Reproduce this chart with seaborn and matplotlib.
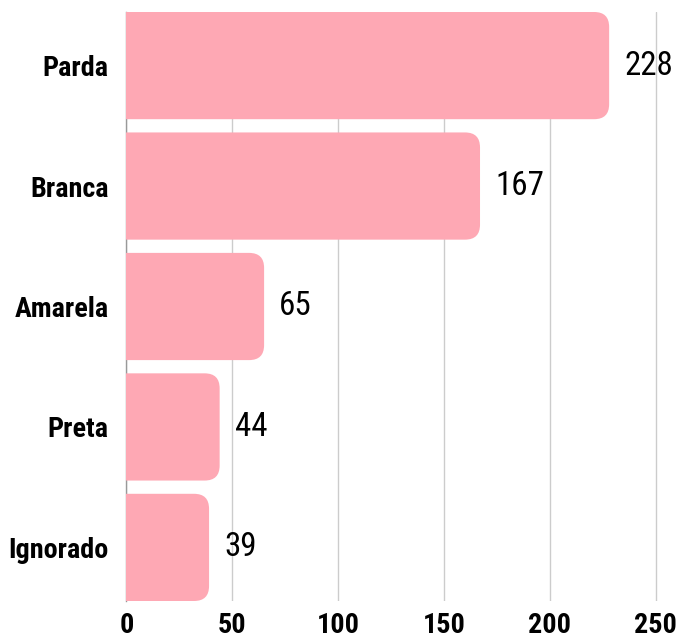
import matplotlib
matplotlib.use("Agg")
import matplotlib.pyplot as plt
import pandas as pd
import seaborn as sns
from matplotlib import font_manager
from matplotlib.patches import FancyBboxPatch

categories = ["Parda", "Branca", "Amarela", "Preta", "Ignorado"]
counts = [228, 167, 65, 44, 39]
x_ticks = [0, 50, 100, 150, 200, 250]

BAR_COLOR = "#FEA8B4"
BAR_WIDTH = 0.89


def pick_font(names):
    for name in names:
        try:
            font_manager.findfont(font_manager.FontProperties(family=name),
                                  fallback_to_default=False)
            return name
        except ValueError:
            continue
    return "DejaVu Sans"


FONT = pick_font(["Roboto Condensed", "Liberation Sans Narrow",
                  "Fira Sans Condensed", "Roboto", "Lato"])

sns.set_theme(style="white")
plt.rcParams["font.family"] = [FONT, "DejaVu Sans"]

df = pd.DataFrame({"cor": categories, "n": counts})

fig = plt.figure(figsize=(6.79, 6.41), dpi=100)
ax = fig.add_axes([0.1863, 0.0624, 0.8137, 0.9189])

sns.barplot(data=df, x="n", y="cor", color=BAR_COLOR, saturation=1,
            width=BAR_WIDTH, ax=ax, zorder=2)

ax.set_xlim(0, 261)
ax.set_ylim(len(categories) - 0.5 - (1 - BAR_WIDTH) / 2,
            -0.5 + (1 - BAR_WIDTH) / 2)


def fit_size(text, weight, target_px, base=20):
    t = fig.text(0, 0, text, fontsize=base, fontweight=weight)
    w = t.get_window_extent(fig.canvas.get_renderer()).width
    t.remove()
    return base * target_px / w


label_size = fit_size("Ignorado", "bold", 100)
value_size = fit_size("228", "normal", 49)

# swap the plain bars for ones with rounded right ends
radius_px = 15
fig.canvas.draw()
px_x = ax.transData.transform((1, 0))[0] - ax.transData.transform((0, 0))[0]
px_y = abs(ax.transData.transform((0, 1))[1] - ax.transData.transform((0, 0))[1])
r_x = radius_px / px_x
aspect = (radius_px / px_y) / r_x
for bar in list(ax.patches):
    x0, y0 = bar.get_x(), bar.get_y()
    w, h = bar.get_width(), bar.get_height()
    bar.remove()
    rounded = FancyBboxPatch((x0 - r_x, y0), w + r_x, h,
                             boxstyle=f"round,pad=0,rounding_size={r_x}",
                             mutation_aspect=aspect, facecolor=BAR_COLOR,
                             edgecolor="none", zorder=2)
    ax.add_patch(rounded)

for i, v in enumerate(counts):
    ax.text(v + 15 / px_x, i, str(v), va="center", ha="left",
            fontsize=value_size, color="black", zorder=3)

ax.set_xticks(x_ticks)
ax.grid(axis="x", color="#cccccc", linewidth=1, zorder=0)
ax.grid(axis="y", visible=False)
ax.set_xlabel("")
ax.set_ylabel("")
for side in ["top", "right", "bottom"]:
    ax.spines[side].set_visible(False)
ax.spines["left"].set_color("#999999")
ax.spines["left"].set_linewidth(1)
ax.spines["left"].set_zorder(1)
ax.tick_params(axis="both", length=0)
ax.tick_params(axis="y", pad=13)
ax.tick_params(axis="x", pad=8)
for lbl in ax.get_yticklabels() + ax.get_xticklabels():
    lbl.set_fontweight("bold")
    lbl.set_fontsize(label_size)
    lbl.set_color("black")

fig.savefig("out.png", dpi=100)
